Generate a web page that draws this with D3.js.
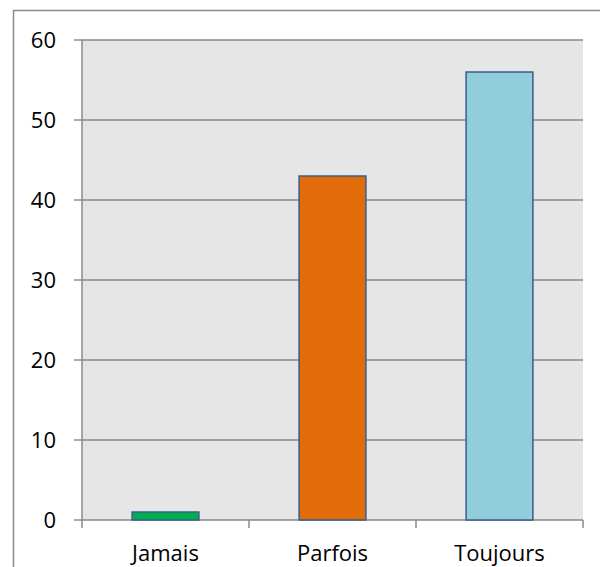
<!DOCTYPE html>
<html><head><meta charset="utf-8">
<script src="https://cdn.jsdelivr.net/npm/d3@7"></script>
<style>body{margin:0;background:#fff}svg{display:block}</style>
</head><body>
<script>
const categories = ["Jamais", "Parfois", "Toujours"];
const values = [1, 43, 56];
const barColors = ["#00B050", "#E36C0A", "#92CDDC"];
const yTicks = [0, 10, 20, 30, 40, 50, 60];

const W = 600, H = 567;
const m = {left: 82, right: 17, top: 40, bottom: 47};
const svg = d3.select("body").append("svg").attr("width", W).attr("height", H);

// outer frame (clipped at right/bottom)
svg.append("rect").attr("x", 13.5).attr("y", 10.5).attr("width", 600).attr("height", 600)
  .attr("fill", "none").attr("stroke", "#8c8c8c").attr("stroke-width", 1.5);

const x = d3.scaleBand().domain(categories).range([m.left, W - m.right]).paddingInner(0).paddingOuter(0);
const y = d3.scaleLinear().domain([0, 60]).range([H - m.bottom, m.top]);

svg.append("rect").attr("x", m.left).attr("y", m.top)
  .attr("width", W - m.right - m.left).attr("height", H - m.bottom - m.top).attr("fill", "#E6E6E6");

// gridlines
svg.append("g").selectAll("line").data(yTicks).join("line")
  .attr("x1", m.left - 8).attr("x2", W - m.right)
  .attr("y1", d => y(d)).attr("y2", d => y(d))
  .attr("stroke", "#8a8a8a").attr("stroke-width", 1.5);

// y axis line
svg.append("line").attr("x1", m.left).attr("x2", m.left).attr("y1", m.top).attr("y2", y(0))
  .attr("stroke", "#8a8a8a").attr("stroke-width", 1.5);

// x tick marks
const xt = [m.left, ...categories.map(c => x(c) + x.bandwidth())];
svg.append("g").selectAll("line").data(xt).join("line")
  .attr("x1", d => d).attr("x2", d => d).attr("y1", y(0)).attr("y2", y(0) + 8)
  .attr("stroke", "#8a8a8a").attr("stroke-width", 1.5);

// bars
const bw = x.bandwidth() * 0.4;
svg.append("g").selectAll("rect").data(values).join("rect")
  .attr("x", (d, i) => x(categories[i]) + (x.bandwidth() - bw) / 2)
  .attr("y", d => y(d)).attr("width", bw).attr("height", d => y(0) - y(d))
  .attr("fill", (d, i) => barColors[i]).attr("stroke", "#385D8A").attr("stroke-width", 1.5);

// y labels
svg.append("g").selectAll("text").data(yTicks).join("text")
  .attr("x", 56).attr("y", d => y(d)).attr("dy", "0.36em").attr("text-anchor", "end")
  .attr("font-family", "Open Sans, Liberation Sans, sans-serif").attr("font-size", 22).attr("fill", "#000")
  .text(d => d);

// x labels
svg.append("g").selectAll("text").data(categories).join("text")
  .attr("x", d => x(d) + x.bandwidth() / 2).attr("y", 553).attr("dy", "0.36em").attr("text-anchor", "middle")
  .attr("font-family", "Open Sans, Liberation Sans, sans-serif").attr("font-size", 22).attr("fill", "#000")
  .text(d => d);
</script>
</body></html>
